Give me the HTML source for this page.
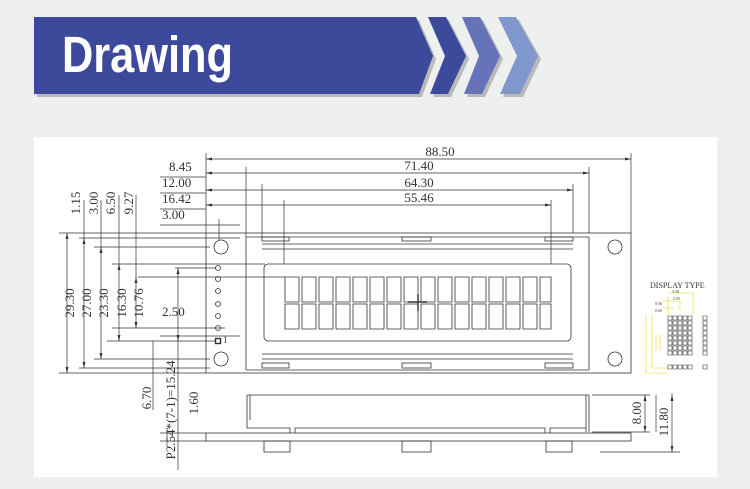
<!DOCTYPE html>
<html><head><meta charset="utf-8"><style>
html,body{margin:0;padding:0;background:#eeefef;}
svg{display:block}
</style></head><body>
<svg width="750" height="489" viewBox="0 0 750 489" xmlns="http://www.w3.org/2000/svg" font-family="Liberation Serif, serif">
<rect width="750" height="489" fill="#eeefef"/>
<!-- banner -->
<g>
<polygon points="37,20 419,20 436,59 422,97 37,97" fill="#b9b9b9"/>
<polygon points="34,17 416,17 433,56 419,94 34,94" fill="#3d4a9c"/>
<polygon points="431,20 449,20 469,59 451,97 433,97 448,59" fill="#b9b9b9"/>
<polygon points="428,17 446,17 466,56 448,94 430,94 445,56" fill="#3d4a9c"/>
<polygon points="465,20 483,20 503,59 485,97 467,97 482,59" fill="#b9b9b9"/>
<polygon points="462,17 480,17 500,56 482,94 464,94 479,56" fill="#6673b8"/>
<polygon points="501,20 519,20 541,59 523,97 503,97 520,59" fill="#b9b9b9"/>
<polygon points="498,17 516,17 538,56 520,94 500,94 517,56" fill="#7f97cc"/>
<text x="62" y="72" font-family="Liberation Sans, sans-serif" font-weight="bold" font-size="51" fill="#fff" textLength="171" lengthAdjust="spacingAndGlyphs">Drawing</text>
</g>
<!-- panel -->
<rect x="34" y="137" width="683" height="340" fill="#fff"/>
<g stroke="#333" stroke-width="0.8" fill="none">
<rect x="206" y="233" width="425" height="140"/>
<path d="M246,237 V370 M589,237 V370 M246,237 H589 M246,370 H589"/>
<circle cx="221" cy="247" r="7"/><circle cx="221" cy="359" r="7"/>
<circle cx="615" cy="247" r="7"/><circle cx="615" cy="359" r="7"/>
<rect x="262" y="237" width="27" height="4"/><rect x="402" y="237" width="29" height="4"/><rect x="545" y="237" width="28" height="4"/>
<rect x="262" y="363" width="27" height="5"/><rect x="402" y="363" width="29" height="5"/><rect x="545" y="363" width="28" height="5"/>
<path d="M262,244 H573 M262,249 H573 M262,354 H573 M262,359 H573"/>
<rect x="264" y="264" width="307" height="77" rx="4"/>
<circle cx="218" cy="268" r="2.5"/><circle cx="218" cy="279" r="2.5"/><circle cx="218" cy="291" r="2.5"/>
<circle cx="218" cy="304" r="2.5"/><circle cx="218" cy="316" r="2.5"/><circle cx="218" cy="328" r="2.5"/>
<rect x="215.5" y="338.5" width="5" height="5" stroke-width="1.4"/>
<path d="M247,395 H589 V432 M247,395 V420 M250,395 V420 M586,395 V432"/>
<path d="M247,420 V428 H290 V433 M295,433 V428 H545 V433 M550,433 V428 H586"/>
<rect x="206" y="433" width="425" height="8"/>
<rect x="264" y="441" width="26" height="11"/><rect x="402" y="441" width="29" height="11"/><rect x="546" y="441" width="26" height="11"/>
</g>
<g stroke="#333" stroke-width="0.8" fill="none">
<path d="M285,277h14v25h-14z M302,277h14v25h-14z M319,277h14v25h-14z M336,277h14v25h-14z M353,277h14v25h-14z M370,277h14v25h-14z M387,277h14v25h-14z M404,277h14v25h-14z M421,277h14v25h-14z M438,277h14v25h-14z M455,277h14v25h-14z M472,277h14v25h-14z M489,277h14v25h-14z M506,277h14v25h-14z M523,277h14v25h-14z M540,277h11v25h-11z"/>
<path d="M285,304h14v25h-14z M302,304h14v25h-14z M319,304h14v25h-14z M336,304h14v25h-14z M353,304h14v25h-14z M370,304h14v25h-14z M387,304h14v25h-14z M404,304h14v25h-14z M421,304h14v25h-14z M438,304h14v25h-14z M455,304h14v25h-14z M472,304h14v25h-14z M489,304h14v25h-14z M506,304h14v25h-14z M523,304h14v25h-14z M540,304h11v25h-11z"/>
<path d="M408,302H427M418,294V311" stroke-width="1.4"/>
</g>
<g stroke="#333" stroke-width="0.7" fill="none">
<path d="M206,153 V233 M631,153 V233 M589,167 V233 M573,184 V233 M551,200 V264 M246,167 V237 M262,184 V237 M284,200 V264 M219,219 V240"/>
<path d="M206,159 H631 M206,173 H589 M206,190 H573 M206,205 H551"/>
<path d="M160,177 H206 M160,193 H206 M160,209 H206 M160,225 H240"/>
<path d="M59,233 H206 M79,238 H240 M94,247 H210 M112,264 H265 M138,277 H285 M107,341 H216 M94,359 H210 M79,368 H210 M59,373 H206"/>
<path d="M112,328 H225 M160,336 H240"/>
<path d="M67,233 V373 M84,238 V368 M101,247 V359 M119,264 V341 M136,277 V328"/>
<path d="M84,200 V240 M101,200 V248 M119,195 V265 M136,195 V278"/>
<path d="M175,268 H216 M178,268 V470 M153,341 V410"/>
<path d="M167,428 V447 M160,433 H206 M160,441 H206"/>
<path d="M592,395 H650 M592,432 H650 M600,452 H680 M656,395 V432 M672,393 V452 M645,395 V432"/>
</g>
<g fill="#333">
<path d="M206,159l6,-1.5v3z M631,159l-6,-1.5v3z M589,173l-6,-1.5v3z M573,190l-6,-1.5v3z M551,205l-6,-1.5v3z"/>
<path d="M206,173l6,-1.5v3z M206,190l6,-1.5v3z M206,205l6,-1.5v3z"/>
<path d="M67,233l-1.5,6h3z M67,373l-1.5,-6h3z M84,238l-1.5,6h3z M84,368l-1.5,-6h3z M101,247l-1.5,6h3z M101,359l-1.5,-6h3z M119,264l-1.5,6h3z M119,341l-1.5,-6h3z M136,277l-1.5,6h3z M136,328l-1.5,-6h3z"/>
<path d="M178,268l-1.5,6h3z M178,341l-1.5,-6h3z M645,395l-1.5,6h3z M645,432l-1.5,-6h3z M672,395l-1.5,6h3z M672,452l-1.5,-6h3z"/>
</g>
<g font-size="13" fill="#333">
<text x="440" y="156" text-anchor="middle">88.50</text>
<text x="419" y="170" text-anchor="middle">71.40</text>
<text x="419" y="187" text-anchor="middle">64.30</text>
<text x="419" y="202" text-anchor="middle">55.46</text>
<text x="169" y="171">8.45</text>
<text x="162" y="187">12.00</text>
<text x="162" y="203">16.42</text>
<text x="162" y="219">3.00</text>
<text x="162" y="316">2.50</text>
<text x="223" y="343" font-size="9">1</text>
<g text-anchor="middle">
<text transform="translate(74,303) rotate(-90)">29.30</text>
<text transform="translate(91,303) rotate(-90)">27.00</text>
<text transform="translate(108,303) rotate(-90)">23.30</text>
<text transform="translate(126,303) rotate(-90)">16.30</text>
<text transform="translate(143,303) rotate(-90)">10.76</text>
<text transform="translate(80,203) rotate(-90)">1.15</text>
<text transform="translate(98,203) rotate(-90)">3.00</text>
<text transform="translate(115,203) rotate(-90)">6.50</text>
<text transform="translate(133,203) rotate(-90)">9.27</text>
<text transform="translate(151,398) rotate(-90)">6.70</text>
<text transform="translate(175,410) rotate(-90)">P2.54*(7-1)=15.24</text>
<text transform="translate(198,403) rotate(-90)">1.60</text>
<text transform="translate(641,413) rotate(-90)">8.00</text>
<text transform="translate(668,422) rotate(-90)">11.80</text>
</g>
</g>
<text x="650" y="288" font-size="8" fill="#333">DISPLAY TYPE</text>
<g stroke="#e8d800" stroke-width="0.6" fill="none">
<path d="M668,293H693V315 M668,297V315 M663,301H680V310 M663,308H674 M646,315V373H668 M652,315V368H668 M656,334V350 M660,334V350"/>
</g>
<g font-size="4" fill="#333"><text x="672" y="293">3.50</text><text x="673" y="300">2.95</text><text x="655" y="305">0.56</text><text x="655" y="312">0.60</text></g>
<g stroke="#333" stroke-width="0.6" fill="none">
<path d="M668,316h4v4h-4zM673,316h4v4h-4zM678,316h4v4h-4zM683,316h4v4h-4zM688,316h4v4h-4zM703,316h4v4h-4z"/>
<path d="M668,321h4v4h-4zM673,321h4v4h-4zM678,321h4v4h-4zM683,321h4v4h-4zM688,321h4v4h-4zM703,321h4v4h-4z"/>
<path d="M668,326h4v4h-4zM673,326h4v4h-4zM678,326h4v4h-4zM683,326h4v4h-4zM688,326h4v4h-4zM703,326h4v4h-4z"/>
<path d="M668,331h4v4h-4zM673,331h4v4h-4zM678,331h4v4h-4zM683,331h4v4h-4zM688,331h4v4h-4zM703,331h4v4h-4z"/>
<path d="M668,336h4v4h-4zM673,336h4v4h-4zM678,336h4v4h-4zM683,336h4v4h-4zM688,336h4v4h-4zM703,336h4v4h-4z"/>
<path d="M668,341h4v4h-4zM673,341h4v4h-4zM678,341h4v4h-4zM683,341h4v4h-4zM688,341h4v4h-4zM703,341h4v4h-4z"/>
<path d="M668,346h4v4h-4zM673,346h4v4h-4zM678,346h4v4h-4zM683,346h4v4h-4zM688,346h4v4h-4zM703,346h4v4h-4z"/>
<path d="M668,351h4v4h-4zM673,351h4v4h-4zM678,351h4v4h-4zM683,351h4v4h-4zM688,351h4v4h-4zM703,351h4v4h-4z"/>
<path d="M668,365h4v4h-4zM673,365h4v4h-4zM678,365h4v4h-4zM683,365h4v4h-4zM688,365h4v4h-4zM703,365h4v4h-4z"/>
</g>
</svg>
</body></html>
